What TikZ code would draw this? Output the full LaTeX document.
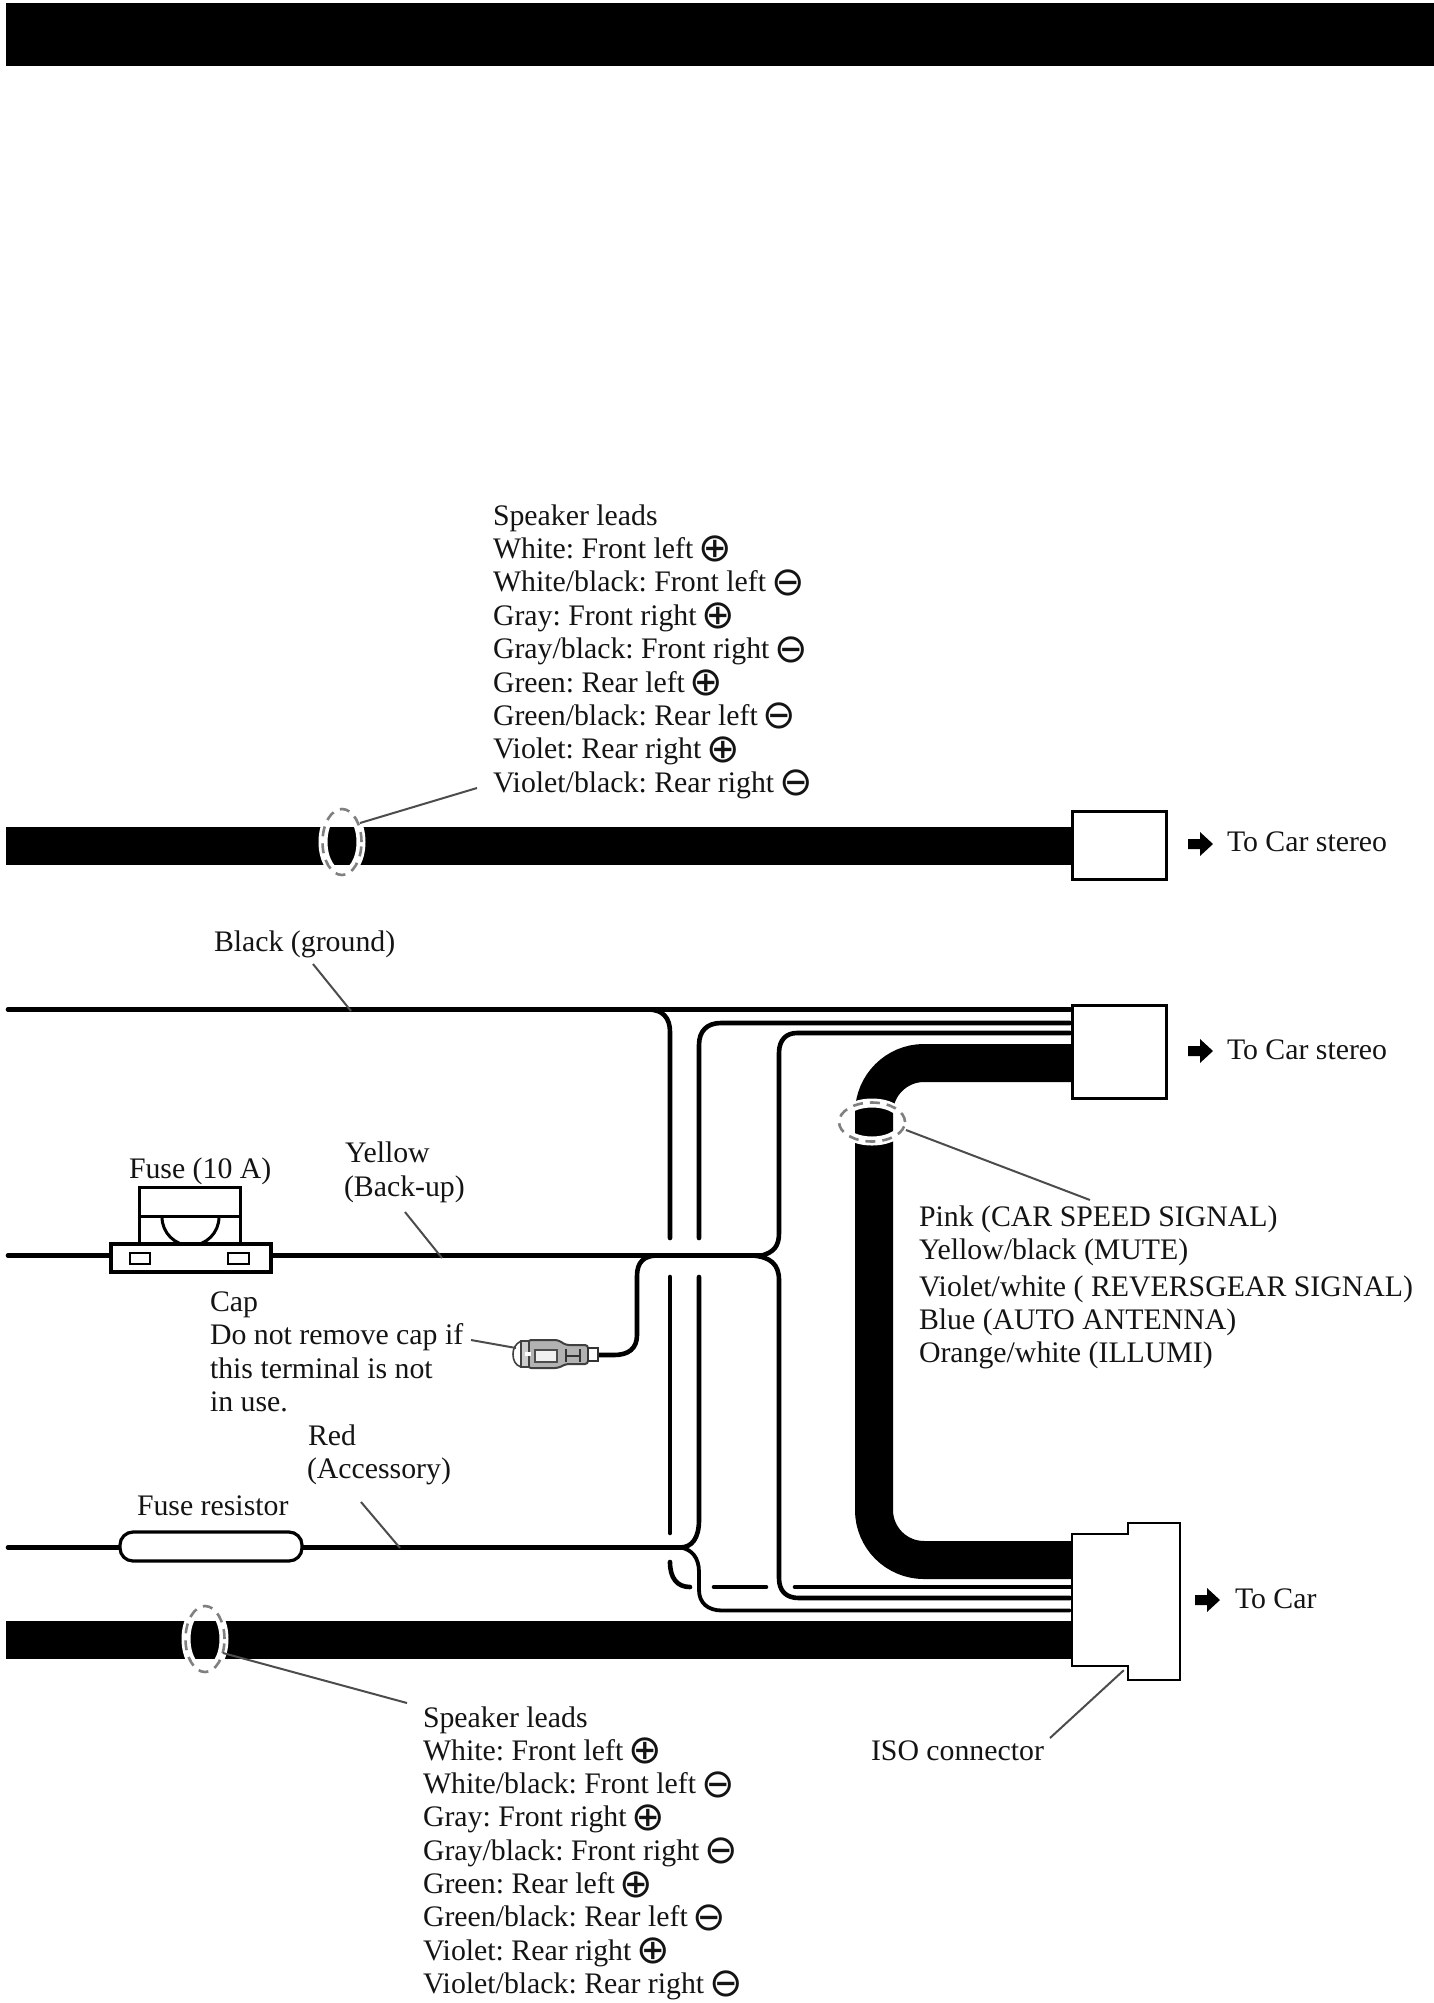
\documentclass[tikz,border=0pt]{standalone}
\usepackage{fontspec}
\setmainfont{Liberation Serif}
\newfontfamily\symf{DejaVu Sans}
\newcommand{\Pl}{\hspace{-2.5pt}\smash{\raisebox{-3.5pt}{\symf\fontsize{40}{40}\selectfont ⊕}}}
\newcommand{\Mi}{\hspace{-2.5pt}\smash{\raisebox{-3.5pt}{\symf\fontsize{40}{40}\selectfont ⊖}}}
\frenchspacing
\tikzset{
  lbl/.style={anchor=base west,inner sep=0pt,outer sep=0pt,font=\fontsize{29.8}{33}\selectfont,text=black!92},
  wire/.style={draw=black,line width=4.6pt,line cap=round,line join=round},
  bundle/.style={draw=black,line width=38pt},
  leader/.style={draw=black!70,line width=2pt},
  conn/.style={draw=black,line width=2.6pt,fill=white},
  ovalhalo/.style={draw=white,line width=9pt},
  ovaldash/.style={draw=black!50,line width=2.6pt,dash pattern=on 10pt off 7pt},
  arr/.style={fill=black,draw=none},
}
\begin{document}
\begin{tikzpicture}[x=1pt,y=-1pt]
\useasboundingbox (0,0) rectangle (1434,2003);
\fill[black] (6,3) rectangle (1434,66);
% thick cables
\coordinate (c1l) at (6,845.5);
\node[conn,minimum width=94pt,minimum height=68pt,inner sep=0pt,anchor=north west] (c1) at (1071,810) {};
\node[conn,minimum width=94pt,minimum height=93pt,inner sep=0pt,anchor=north west] (c2) at (1071,1004) {};
\draw[bundle] (c1l) -- (c1.west |- c1l);
% wires
\coordinate (gl) at (8,1009.5);
\draw[wire] (gl) -- (1070,1009.5);
\draw[wire] (648,1009.5) .. controls (663,1009.5) and (670,1018) .. (670,1032) -- (670,1238);
\draw[wire] (670,1277) -- (670,1533);
\draw[wire] (670,1562) .. controls (670,1578) and (677,1587) .. (690,1587);
\draw[wire] (714,1587) -- (766,1587);
\draw[wire] (795,1587) -- (1070,1587);
\draw[wire] (1070,1023) -- (721,1023) .. controls (707,1023) and (699,1031) .. (699,1045) -- (699,1238);
\draw[wire] (699,1277) -- (699,1520) .. controls (699,1538) and (692,1547.5) .. (680,1547.5);
\draw[wire] (1070,1033) -- (797,1033) .. controls (786,1033) and (779,1040) .. (779,1053) -- (779,1233) .. controls (779,1246) and (774,1252) .. (762,1255.5);
\draw[wire] (8,1255.5) -- (765,1255.5);
\draw[wire] (753,1255.5) .. controls (770,1257) and (779,1264) .. (779,1280) -- (779,1578) .. controls (779,1591) and (786,1598) .. (799,1598) -- (1070,1598);
\draw[wire] (656,1255.5) .. controls (644,1256) and (637,1262) .. (637,1276) -- (637,1335) .. controls (637,1349) and (628,1355) .. (614,1355) -- (598,1355);
\draw[wire] (8,1547.5) -- (680,1547.5);
\draw[wire,line width=3.8pt] (680,1547.5) .. controls (692,1549) and (699,1558) .. (699,1572) -- (699,1590) .. controls (699,1603) and (708,1610.5) .. (722,1610.5) -- (1070,1610.5);
% bundle
\draw[bundle,rounded corners=50pt] (c2.west |- 0,1063) -- (874,1063) -- (874,1560) -- (1072,1560);
% bottom cable
\coordinate (c3l) at (6,1639.5);
\draw[bundle] (c3l) -- (1072,1639.5);
% ISO connector
\draw[conn] (1072,1534) -- (1128,1534) -- (1128,1523) -- (1180,1523) -- (1180,1680) -- (1128,1680) -- (1128,1666) -- (1072,1666) -- cycle;
\node[inner sep=0pt,minimum size=0pt] (iso) at (1124,1670) {};
% fuse
\draw[line width=3pt,fill=white] (139,1216) rectangle (240,1246);
\draw[line width=3pt,fill=white] (139,1187) rectangle (240,1216);
\draw[line width=3pt] (162,1217) arc[start angle=180,end angle=360,radius=28.5pt];
\draw[line width=3.2pt,fill=white] (111,1244) rectangle (271,1272);
\draw[line width=2.2pt,fill=white] (130,1253) rectangle (150,1264);
\draw[line width=2.2pt,fill=white] (228,1253) rectangle (249,1264);
% fuse resistor
\node[draw=black,line width=3.2pt,fill=white,rounded corners=13pt,minimum width=182pt,minimum height=29pt,inner sep=0pt] (fr) at (211,1546.5) {};
% plug
\draw[line width=2pt,black!75,rounded corners=3pt,fill=black!30] (528,1340) -- (558,1340) -- (566,1345) -- (588,1345) -- (588,1364) -- (566,1364) -- (558,1368) -- (528,1368) -- cycle;
\draw[line width=1.4pt,black!70,fill=black!6] (535,1350) rectangle (557,1362);
\draw[line width=1.8pt,black!75,fill=black!20] (521,1341) rectangle (529,1367);
\draw[line width=1.6pt,black!75] (521,1341) .. controls (515,1344) and (513,1349) .. (513,1354) .. controls (513,1360) and (515,1365) .. (521,1367);
\fill[white] (525,1352) rectangle (531,1356);
\draw[line width=1.6pt,black!80] (566,1349) -- (566,1362) (580,1349) -- (580,1362) (566,1356) -- (580,1356);
\draw[line width=2pt,black!80,fill=white] (588,1348) rectangle (598,1361);
% ovals
\node[inner sep=0pt] (ov1) at (342,842) {};
\draw[ovalhalo] (ov1) ellipse[x radius=19pt,y radius=32pt];
\draw[ovaldash] (ov1) ellipse[x radius=19.5pt,y radius=33pt];
\node[inner sep=0pt] (ov2) at (205,1639) {};
\draw[ovalhalo] (ov2) ellipse[x radius=19pt,y radius=32pt];
\draw[ovaldash] (ov2) ellipse[x radius=19.5pt,y radius=33pt];
\node[inner sep=0pt] (ov3) at (872,1122) {};
\draw[ovalhalo] (ov3) ellipse[x radius=32pt,y radius=19pt];
\draw[ovaldash] (ov3) ellipse[x radius=33pt,y radius=19.5pt];
% labels
\node[lbl] (s0) at (493,525) {Speaker leads};
\node[lbl] (s1) at (493,558.4) {White: Front left \Pl};
\node[lbl] (s2) at (493,591.8) {White/black: Front left \Mi};
\node[lbl] (s3) at (493,625.2) {Gray: Front right \Pl};
\node[lbl] (s4) at (493,658.6) {Gray/black: Front right \Mi};
\node[lbl] (s5) at (493,692) {Green: Rear left \Pl};
\node[lbl] (s6) at (493,725.4) {Green/black: Rear left \Mi};
\node[lbl] (s7) at (493,758.8) {Violet: Rear right \Pl};
\node[lbl] (s8) at (493,792.2) {Violet/black: Rear right \Mi};
\node[lbl] (b0) at (423,1727) {Speaker leads};
\node[lbl] (b1) at (423,1760.3) {White: Front left \Pl};
\node[lbl] (b2) at (423,1793.6) {White/black: Front left \Mi};
\node[lbl] (b3) at (423,1826.9) {Gray: Front right \Pl};
\node[lbl] (b4) at (423,1860.2) {Gray/black: Front right \Mi};
\node[lbl] (b5) at (423,1893.5) {Green: Rear left \Pl};
\node[lbl] (b6) at (423,1926.8) {Green/black: Rear left \Mi};
\node[lbl] (b7) at (423,1960.1) {Violet: Rear right \Pl};
\node[lbl] (b8) at (423,1993.4) {Violet/black: Rear right \Mi};
\node[lbl] (ts1) at (1227,851) {To Car stereo};
\node[lbl] (ts2) at (1227,1059) {To Car stereo};
\node[lbl] (ts3) at (1235,1608) {To Car};
\node[lbl] (blk) at (214,951) {Black (ground)};
\node[lbl] (fuse) at (129,1178) {Fuse (10 A)};
\node[lbl] (yel) at (345,1162) {Yellow};
\node[lbl] (bak) at (344,1196) {(Back-up)};
\node[lbl] (cap0) at (210,1311) {Cap};
\node[lbl] (cap1) at (210,1344) {Do not remove cap if};
\node[lbl] (cap2) at (210,1378) {this terminal is not};
\node[lbl] (cap3) at (210,1411) {in use.};
\node[lbl] (red) at (308,1445) {Red};
\node[lbl] (acc) at (307,1478) {(Accessory)};
\node[lbl] (frl) at (137,1515) {Fuse resistor};
\node[lbl] (p1) at (919,1226) {Pink (CAR SPEED SIGNAL)};
\node[lbl] (p2) at (919,1259) {Yellow/black (MUTE)};
\node[lbl] (p3) at (919,1296) {Violet/white ( REVERSGEAR SIGNAL)};
\node[lbl] (p4) at (919,1329) {Blue (AUTO ANTENNA)};
\node[lbl] (p5) at (919,1362) {Orange/white (ILLUMI)};
\node[lbl] (isol) at (871,1760) {ISO connector};
% leaders
\coordinate (l1a) at (360,823); \coordinate (l1b) at (477,788);
\draw[leader] (l1a) -- (l1b);
\coordinate (l2a) at (223,1653); \coordinate (l2b) at (407,1703);
\draw[leader] (l2a) -- (l2b);
\coordinate (l3a) at (906,1130); \coordinate (l3b) at (1090,1200);
\draw[leader] (l3a) -- (l3b);
\coordinate (l4a) at (313,964); \coordinate (l4b) at (351,1011);
\draw[leader] (l4a) -- (l4b);
\coordinate (l5a) at (405,1212); \coordinate (l5b) at (442,1258);
\draw[leader] (l5a) -- (l5b);
\coordinate (l6a) at (361,1502); \coordinate (l6b) at (400,1548);
\draw[leader] (l6a) -- (l6b);
\coordinate (l7a) at (471,1340); \coordinate (l7b) at (516,1348);
\draw[leader] (l7a) -- (l7b);
\coordinate (l8a) at (1050,1738);
\draw[leader] (l8a) -- (iso);
% arrows
\fill[arr] (1188,839) -- (1200,839) -- (1200,832) -- (1213,844) -- (1200,856) -- (1200,849) -- (1188,849) -- cycle;
\fill[arr] (1188,1046) -- (1200,1046) -- (1200,1039) -- (1213,1051) -- (1200,1063) -- (1200,1056) -- (1188,1056) -- cycle;
\fill[arr] (1195,1595) -- (1207,1595) -- (1207,1588) -- (1220,1600) -- (1207,1612) -- (1207,1605) -- (1195,1605) -- cycle;
\end{tikzpicture}
\end{document}
